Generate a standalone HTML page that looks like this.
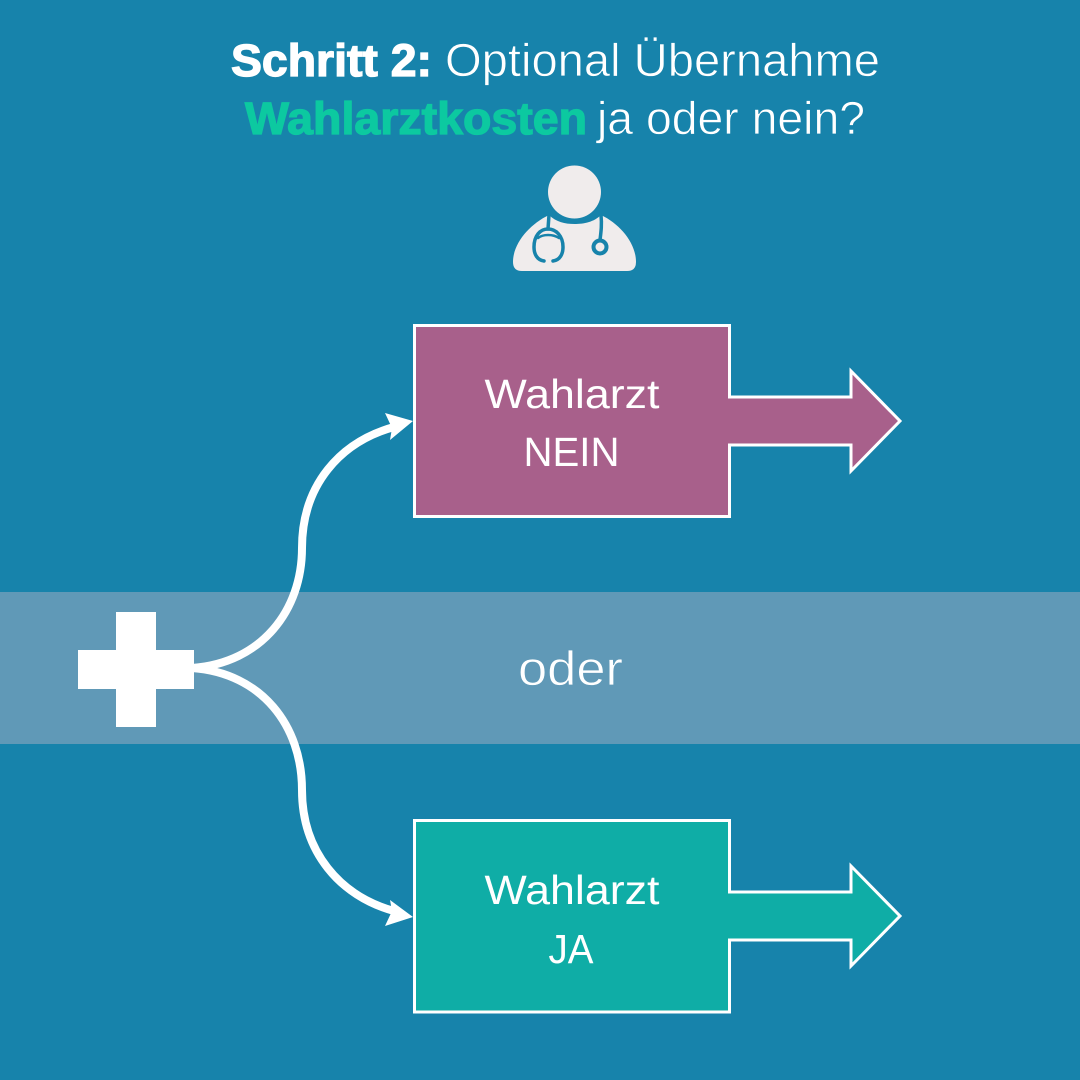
<!DOCTYPE html>
<html lang="de">
<head>
<meta charset="utf-8">
<title>Schritt 2</title>
<style>
html,body{margin:0;padding:0;background:#1783ab}
svg{display:block}
text{font-family:"Liberation Sans",sans-serif;fill:#fff}
</style>
</head>
<body>
<svg width="1080" height="1080" viewBox="0 0 1080 1080" xmlns="http://www.w3.org/2000/svg">
<rect width="1080" height="1080" fill="#1783ab"/>
<rect x="0" y="592" width="1080" height="152" fill="#6099b7"/>

<!-- Title -->
<text x="231" y="76" font-size="45" font-weight="bold" stroke="#fff" stroke-width="1.3" textLength="201" lengthAdjust="spacingAndGlyphs">Schritt 2:</text>
<text x="445" y="76" font-size="46" stroke="#1783ab" stroke-width="0.7" textLength="435" lengthAdjust="spacingAndGlyphs">Optional Übernahme</text>
<text x="245" y="134" font-size="45" font-weight="bold" style="fill:#0cc9a0" stroke="#0cc9a0" stroke-width="1.3" textLength="342" lengthAdjust="spacingAndGlyphs">Wahlarztkosten</text>
<text x="597" y="134" font-size="46" stroke="#1783ab" stroke-width="0.7" textLength="268" lengthAdjust="spacingAndGlyphs">ja oder nein?</text>

<!-- Doctor icon -->
<circle cx="574.5" cy="192" r="26.5" fill="#f0ecec"/>
<path d="M549,215 C556,222 565,224 574.5,224 C584,224 594,222 601,215 C620,224 636,243 636,262 Q636,271 627,271 L522,271 Q513,271 513,262 C513,243 530,224 549,215 Z" fill="#f0ecec"/>
<g fill="none" stroke="#1783ab" stroke-linecap="round">
<path d="M549,215 L548,229" stroke-width="3.5"/>
<path d="M544,261 C537,260 534,254 534,247 C534,236 540,229 548,229 C556,229 563,236 563,247 C563,254 560,260 553,261" stroke-width="3.5"/>
<path d="M538,238 C543,234 553,234 559,238" stroke-width="2.5"/>
<path d="M601,215 C602,225 601,232 600,240" stroke-width="3.5"/>
<circle cx="600" cy="247" r="6.5" stroke-width="4"/>
</g>

<!-- Cross -->
<path d="M116,612 H156 V650 H194 V689 H156 V727 H116 V689 H78 V650 H116 Z" fill="#fff"/>

<!-- Connectors -->
<g fill="none" stroke="#fff" stroke-width="8">
<path d="M192,668 C262,663 302,610 302,548 C302,485 340,442 394,427"/>
<path d="M192,668 C262,673 302,726 302,790 C302,852 340,896 394,911"/>
</g>
<polygon points="413,421 385,413 392,428 390,440" fill="#fff"/>
<polygon points="413,917 390,900 392,911 385,926" fill="#fff"/>
<text x="518" y="685" font-size="48" stroke="#6099b7" stroke-width="0.7" textLength="105" lengthAdjust="spacingAndGlyphs">oder</text>

<!-- NEIN -->
<path d="M414.5,325.5 H729.5 V397 H851 V371 L900,421 L851,471 V445 H729.5 V516.5 H414.5 Z" fill="#a8608b" stroke="#fff" stroke-width="3"/>
<text x="572" y="408" font-size="41" text-anchor="middle" textLength="175" lengthAdjust="spacingAndGlyphs">Wahlarzt</text>
<text x="571.5" y="466" font-size="41" text-anchor="middle" textLength="96" lengthAdjust="spacingAndGlyphs">NEIN</text>

<!-- JA -->
<path d="M414.5,820.5 H729.5 V892 H851 V866 L900,916 L851,966 V940 H729.5 V1012 H414.5 Z" fill="#0fada6" stroke="#fff" stroke-width="3"/>
<text x="572" y="904" font-size="41" text-anchor="middle" textLength="175" lengthAdjust="spacingAndGlyphs">Wahlarzt</text>
<text x="571" y="963" font-size="41" text-anchor="middle" textLength="45" lengthAdjust="spacingAndGlyphs">JA</text>
</svg>
</body>
</html>
